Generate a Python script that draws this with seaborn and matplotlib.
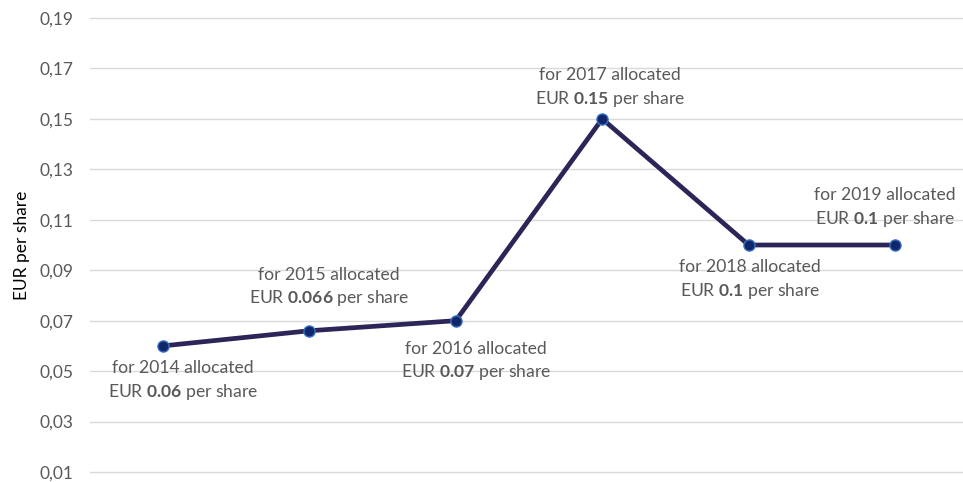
import matplotlib
matplotlib.use("Agg")
import matplotlib.pyplot as plt
import seaborn as sns
import pandas as pd

# Data
years = ["2014", "2015", "2016", "2017", "2018", "2019"]
dividend = [0.06, 0.066, 0.07, 0.15, 0.10, 0.10]
value_labels = ["0.06", "0.066", "0.07", "0.15", "0.1", "0.1"]
y_ticks = [0.01, 0.03, 0.05, 0.07, 0.09, 0.11, 0.13, 0.15, 0.17, 0.19]

# label placement (pixel offsets from each point)
label_offsets = [(20, -35), (20, 43), (20, -41), (8, 31), (1, -35), (-10, 37)]

df = pd.DataFrame({"Year": years, "Dividend": dividend})

sns.set_theme(style="whitegrid")
plt.rcParams["font.family"] = ["Lato", "DejaVu Sans"]
plt.rcParams["mathtext.fontset"] = "custom"
plt.rcParams["mathtext.rm"] = "Lato"
plt.rcParams["mathtext.bf"] = "Lato:bold"

fig = plt.figure(figsize=(9.63, 4.82), dpi=100)
ax = fig.add_axes([0.0935, 0.0207, 0.9065, 0.942])

sns.lineplot(
    data=df, x="Year", y="Dividend", ax=ax,
    color="#2B2657", linewidth=3.4,
    marker="o", markersize=8,
    markerfacecolor="#10286A", markeredgecolor="#3A6FC4", markeredgewidth=1.0,
)

for i, (yr, val, lab) in enumerate(zip(years, dividend, value_labels)):
    dx, dy = label_offsets[i]
    ax.annotate(
        f"for {yr} allocated\nEUR $\\mathbf{{{lab}}}$ per share",
        xy=(i, val), xytext=(dx, dy), textcoords="offset pixels",
        ha="center", va="center", multialignment="center",
        fontsize=12.6, color="#595959", linespacing=1.35,
    )

ax.set_ylim(0.01, 0.19)
ax.set_xlim(-0.497, 5.463)
ax.set_yticks(y_ticks)
ax.set_yticklabels([f"{t:.2f}".replace(".", ",") for t in y_ticks])
ax.tick_params(axis="y", labelsize=12.5, labelcolor="#595959", pad=12, length=0)
ax.set_xticks([])
ax.set_xlabel("")
ax.set_ylabel("EUR per share", fontsize=12.5, color="black", labelpad=7)

ax.grid(True, axis="y", color="#D9D9D9", linewidth=1)
ax.grid(False, axis="x")
for gl in ax.get_ygridlines():
    gl.set_clip_on(False)
for s in ax.spines.values():
    s.set_visible(False)
ax.set_facecolor("white")

fig.savefig("out.png", dpi=100)
